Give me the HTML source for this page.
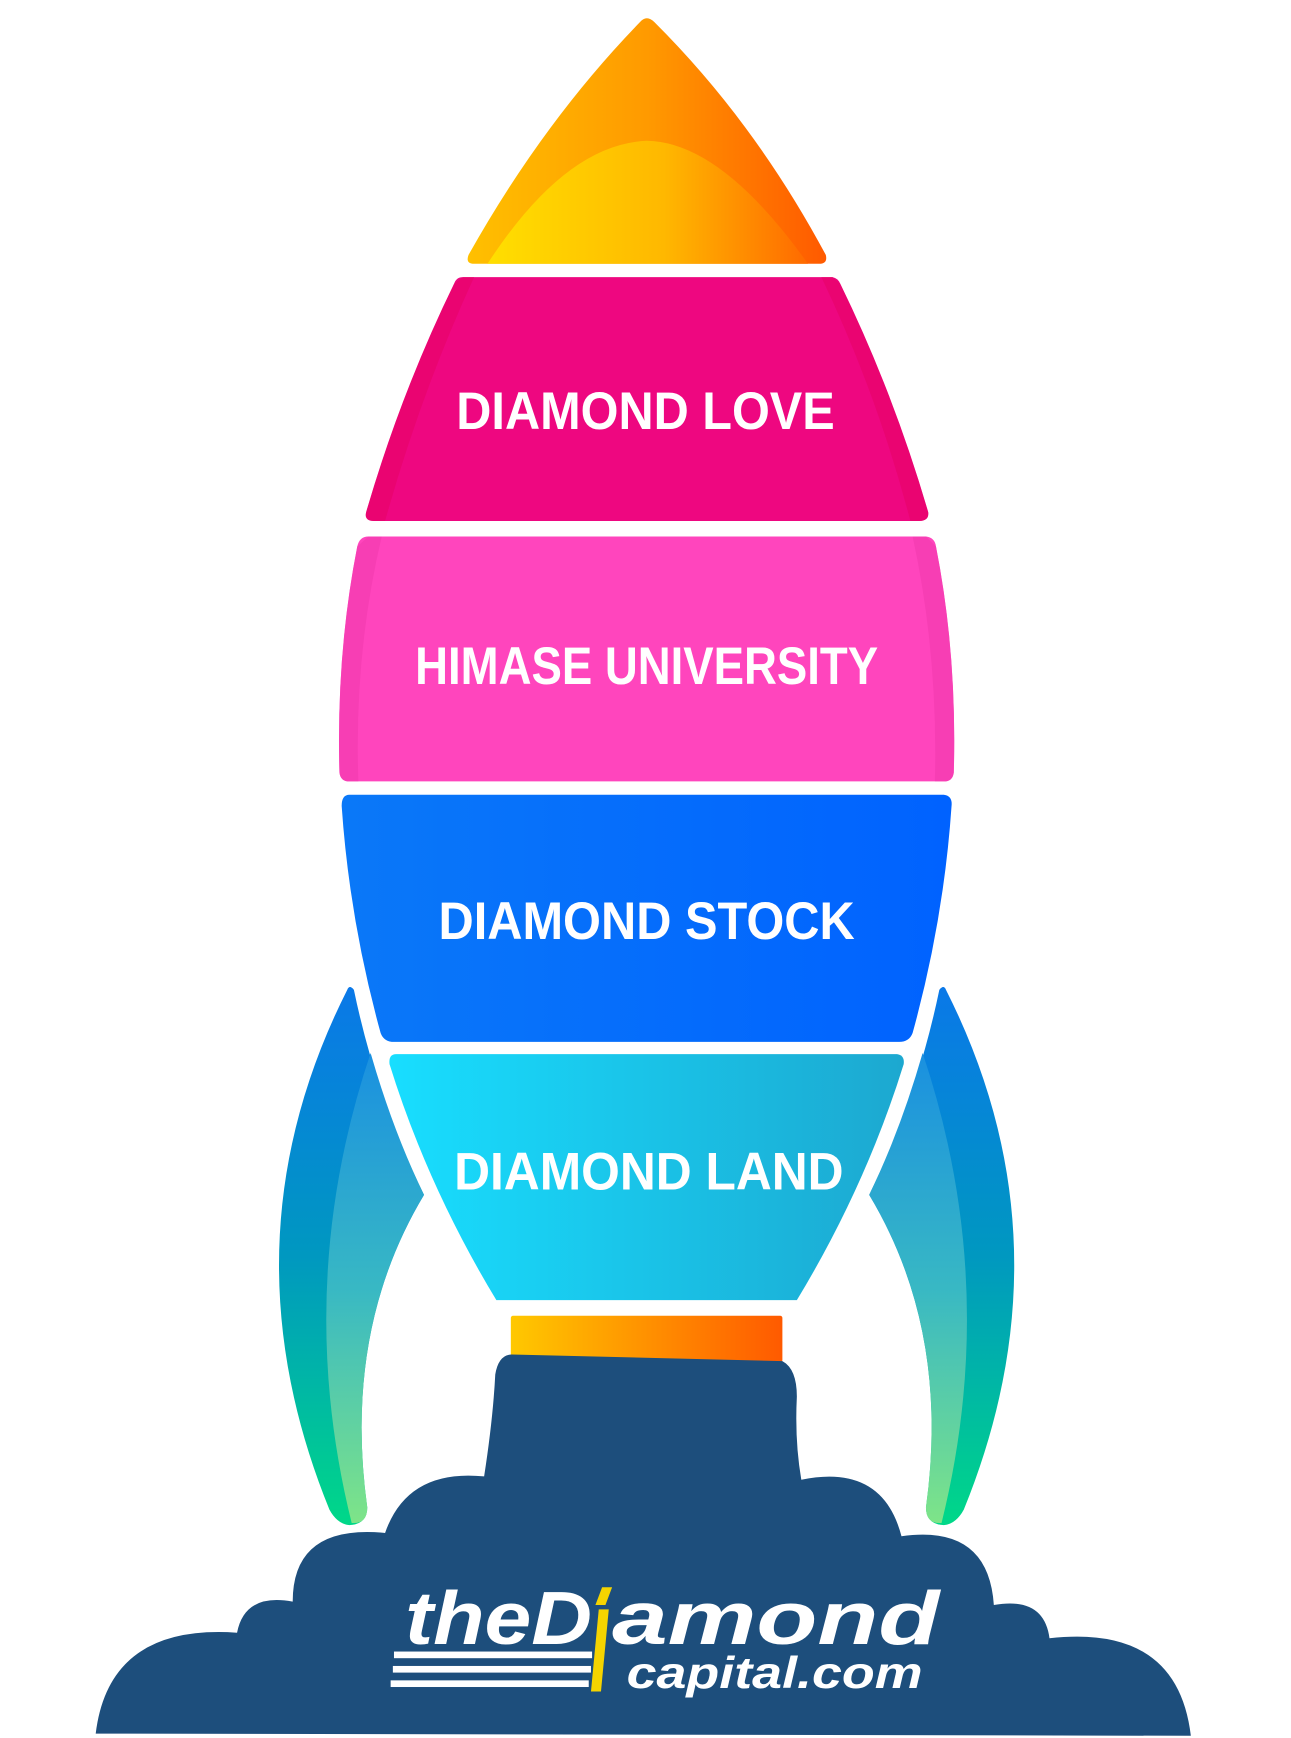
<!DOCTYPE html>
<html><head><style>html,body{margin:0;padding:0;background:#fff;}svg{display:block}</style></head>
<body>
<svg width="1291" height="1738" viewBox="0 0 1160 1568" preserveAspectRatio="none" xmlns="http://www.w3.org/2000/svg">
<defs>
<linearGradient id="nose" x1="0" x2="1" y1="0" y2="0"><stop offset="0" stop-color="#FFC000"/><stop offset="0.5" stop-color="#FF9A00"/><stop offset="1" stop-color="#FF5A00"/></linearGradient>
<linearGradient id="noseIn" x1="0" x2="1" y1="0" y2="0"><stop offset="0" stop-color="#FFDF00"/><stop offset="0.55" stop-color="#FFB800"/><stop offset="1" stop-color="#FF6A00"/></linearGradient>
<linearGradient id="noz" x1="0" x2="1"><stop offset="0" stop-color="#FFC800"/><stop offset="1" stop-color="#FF5A00"/></linearGradient>
<linearGradient id="land" x1="0" x2="1"><stop offset="0" stop-color="#18DEFF"/><stop offset="1" stop-color="#1CA8D0"/></linearGradient>
<linearGradient id="stock" x1="0" x2="1"><stop offset="0" stop-color="#0A78F8"/><stop offset="1" stop-color="#0062FF"/></linearGradient>
<linearGradient id="fin" x1="0" x2="0" y1="0" y2="1"><stop offset="0" stop-color="#0A78E8"/><stop offset="0.5" stop-color="#0098C0"/><stop offset="1" stop-color="#00D888"/></linearGradient>
<linearGradient id="finIn" x1="0" x2="0" y1="0" y2="1"><stop offset="0" stop-color="#1A90E0"/><stop offset="0.5" stop-color="#38B8C4"/><stop offset="1" stop-color="#7EE488"/></linearGradient>
</defs>
<g transform="translate(-2,0)">
<g>
<path d="M314 893 Q 316 888 320 893 Q 340 990 383 1078 Q 310 1200 332 1360 Q 332 1375 316 1376 Q 305 1375 298 1362 Q 200 1120 314 893 Z" fill="url(#fin)"/>
<path d="M335 950 Q 355 1020 383 1078 Q 310 1200 332 1360 Q 332 1375 318 1374 Q 265 1160 335 950 Z" fill="url(#finIn)"/>
</g>
<g transform="translate(1166,0) scale(-1,1)">
<path d="M314 893 Q 316 888 320 893 Q 340 990 383 1078 Q 310 1200 332 1360 Q 332 1375 316 1376 Q 305 1375 298 1362 Q 200 1120 314 893 Z" fill="url(#fin)"/>
<path d="M335 950 Q 355 1020 383 1078 Q 310 1200 332 1360 Q 332 1375 318 1374 Q 265 1160 335 950 Z" fill="url(#finIn)"/>
</g>
<path d="M577 20 Q 583 13 590 20 Q 680 110 744 230 Q 746 238 738 238 L 428 238 Q 420 238 423 230 Q 490 110 577 20 Z" fill="url(#nose)"/>
<path d="M440 238 Q 510 130 583 127 Q 650 128 728 238 Z" fill="url(#noseIn)"/>
<path d="M418 250 L 750 250 Q 755 251 757 256 Q 805 355 836 462 Q 837 470 828 470 L 338 470 Q 329 470 331 462 Q 362 355 410 256 Q 412 250 418 250 Z" fill="#EE0780"/>
<path d="M418 250 L 428 250 Q 380 355 348 470 L 338 470 Q 329 470 331 462 Q 362 355 410 256 Z M750 250 L740 250 Q 790 355 820 470 L 828 470 Q 837 470 836 462 Q 805 355 757 256 Z" fill="#E80468" opacity="0.6"/>
<path d="M333 484 L 834 484 Q 842 485 843 493 Q 862 590 859 697 Q 858 705 850 705 L 316 705 Q 308 705 307 697 Q 304 590 323 493 Q 325 484 333 484 Z" fill="#FF45BD"/>
<path d="M333 484 L 345 484 Q 320 590 324 705 L 316 705 Q 308 705 307 697 Q 304 590 323 493 Z M834 484 L 822 484 Q 845 590 842 705 L 850 705 Q 858 705 859 697 Q 862 590 843 493 Z" fill="#F43CB0" opacity="0.7"/>
<path d="M316 717 L 850 717 Q 858 718 857 727 Q 850 830 822 932 Q 819 940 810 940 L 356 940 Q 347 940 344 932 Q 316 830 309 727 Q 309 717 316 717 Z" fill="url(#stock)"/>
<path d="M358 951 L 808 951 Q 815 952 814 960 Q 780 1070 718 1173 L 448 1173 Q 386 1070 352 960 Q 351 951 358 951 Z" fill="url(#land)"/>
<rect x="461" y="1187" width="244" height="42" rx="2" fill="url(#noz)"/>
<path d="M462 1222 L 705 1228 Q 718 1235 718 1260 Q 716 1300 722 1335 Q 795 1320 812 1386 Q 890 1375 895 1448 Q 940 1440 945 1478 Q 1060 1465 1072 1566 L 88 1564 Q 100 1465 215 1473 Q 222 1437 265 1445 Q 265 1375 348 1383 Q 368 1325 437 1332 Q 445 1280 447 1240 Q 450 1222 462 1222 Z" fill="#1D4E7C"/>
<g font-family="Liberation Sans, sans-serif" font-weight="bold" fill="#fff" font-size="48">
<text x="412" y="387" textLength="340" lengthAdjust="spacingAndGlyphs">DIAMOND LOVE</text>
<text x="375" y="617" textLength="416" lengthAdjust="spacingAndGlyphs">HIMASE UNIVERSITY</text>
<text x="396" y="847" textLength="374" lengthAdjust="spacingAndGlyphs">DIAMOND STOCK</text>
<text x="410" y="1073" textLength="350" lengthAdjust="spacingAndGlyphs">DIAMOND LAND</text>
</g>
<g font-family="Liberation Sans, sans-serif" font-weight="bold" font-style="italic" fill="#fff">
<text x="366" y="1483" font-size="68" textLength="168" lengthAdjust="spacingAndGlyphs">theD</text>
<text x="552" y="1483" font-size="68" textLength="294" lengthAdjust="spacingAndGlyphs">amond</text>
<text x="565" y="1523" font-size="40" textLength="266" lengthAdjust="spacingAndGlyphs">capital.com</text>
</g>
<polygon points="543,1432 552,1432 546,1448 537,1448" fill="#F5D400"/>
<polygon points="540,1452 549,1452 542,1526 533,1526" fill="#F5D400"/>
<rect x="356" y="1490" width="178" height="6" fill="#fff"/>
<rect x="355" y="1503" width="178" height="6" fill="#fff"/>
<rect x="353" y="1516" width="178" height="6" fill="#fff"/>
</g>
</svg>
</body></html>
